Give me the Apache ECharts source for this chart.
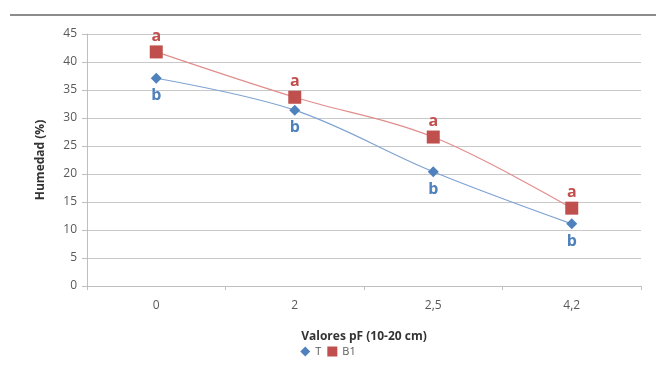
<!DOCTYPE html>
<html>
<head>
<meta charset="utf-8">
<script src="https://cdn.jsdelivr.net/npm/echarts@6/dist/echarts.min.js"></script>
<style>html,body{margin:0;padding:0;background:#fff}#c{width:656px;height:378px}</style>
</head>
<body>
<div id="c"></div>
<script>
const categories = ['0', '2', '2,5', '4,2'];
const seriesT = [37.1, 31.4, 20.4, 11.1];
const seriesB1 = [41.8, 33.7, 26.6, 13.9];
const labelsT = ['b', 'b', 'b', 'b'];
const labelsB1 = ['a', 'a', 'a', 'a'];
const yTicks = [0, 5, 10, 15, 20, 25, 30, 35, 40, 45];

const chart = echarts.init(document.getElementById('c'));
const font = '"Open Sans", "Liberation Sans", sans-serif';
chart.setOption({
  animation: false,
  backgroundColor: '#fff',
  textStyle: { fontFamily: font },
  graphic: [{
    type: 'line', shape: { x1: 10, y1: 15, x2: 656, y2: 15 },
    style: { stroke: '#8c8c8c', lineWidth: 2 }
  }],
  grid: { left: 87, right: 15, top: 34, bottom: 92 },
  legend: {
    bottom: 16, left: 'center', itemWidth: 10, itemHeight: 10, itemGap: 6,
    textStyle: { color: '#595959', fontSize: 11, fontFamily: font },
    data: [{ name: 'T', icon: 'diamond' }, { name: 'B1', icon: 'rect' }]
  },
  xAxis: {
    type: 'category', data: categories, boundaryGap: true,
    name: 'Valores pF (10-20 cm)', nameLocation: 'middle', nameGap: 45,
    nameTextStyle: { fontWeight: 'bold', fontSize: 12, color: '#333', fontFamily: font },
    axisLine: { lineStyle: { color: '#bfbfbf' } },
    axisTick: { show: true, length: 4, lineStyle: { color: '#bfbfbf' } },
    axisLabel: { color: '#595959', fontSize: 12, margin: 14 }
  },
  yAxis: {
    type: 'value', min: 0, max: 45, interval: 5,
    name: 'Humedad (%)', nameLocation: 'middle', nameGap: 40, nameRotate: 90,
    nameTextStyle: { fontWeight: 'bold', fontSize: 12, color: '#333', fontFamily: font },
    axisLine: { show: true, lineStyle: { color: '#bfbfbf' } },
    axisTick: { show: true, length: 5, lineStyle: { color: '#bfbfbf' } },
    axisLabel: { color: '#595959', fontSize: 12, margin: 10,
      formatter: v => yTicks.includes(v) ? String(v) : '' },
    splitLine: { lineStyle: { color: '#c8c8c8' } }
  },
  series: [
    {
      name: 'T', type: 'line', data: seriesT, smooth: 0.35,
      symbol: 'diamond', symbolSize: 11,
      itemStyle: { color: '#4F81BD' },
      lineStyle: { color: '#7fa3d3', width: 1.2 },
      label: { show: true, position: 'bottom', distance: 4, color: '#4F81BD',
        fontSize: 16, fontWeight: 'bold', fontFamily: font,
        formatter: p => labelsT[p.dataIndex] }
    },
    {
      name: 'B1', type: 'line', data: seriesB1, smooth: 0.35,
      symbol: 'rect', symbolSize: 13,
      itemStyle: { color: '#C0504D' },
      lineStyle: { color: '#e08d8b', width: 1.2 },
      label: { show: true, position: 'top', distance: 1, color: '#C0504D',
        fontSize: 16, fontWeight: 'bold', fontFamily: font,
        formatter: p => labelsB1[p.dataIndex] }
    }
  ]
});
</script>
</body>
</html>
